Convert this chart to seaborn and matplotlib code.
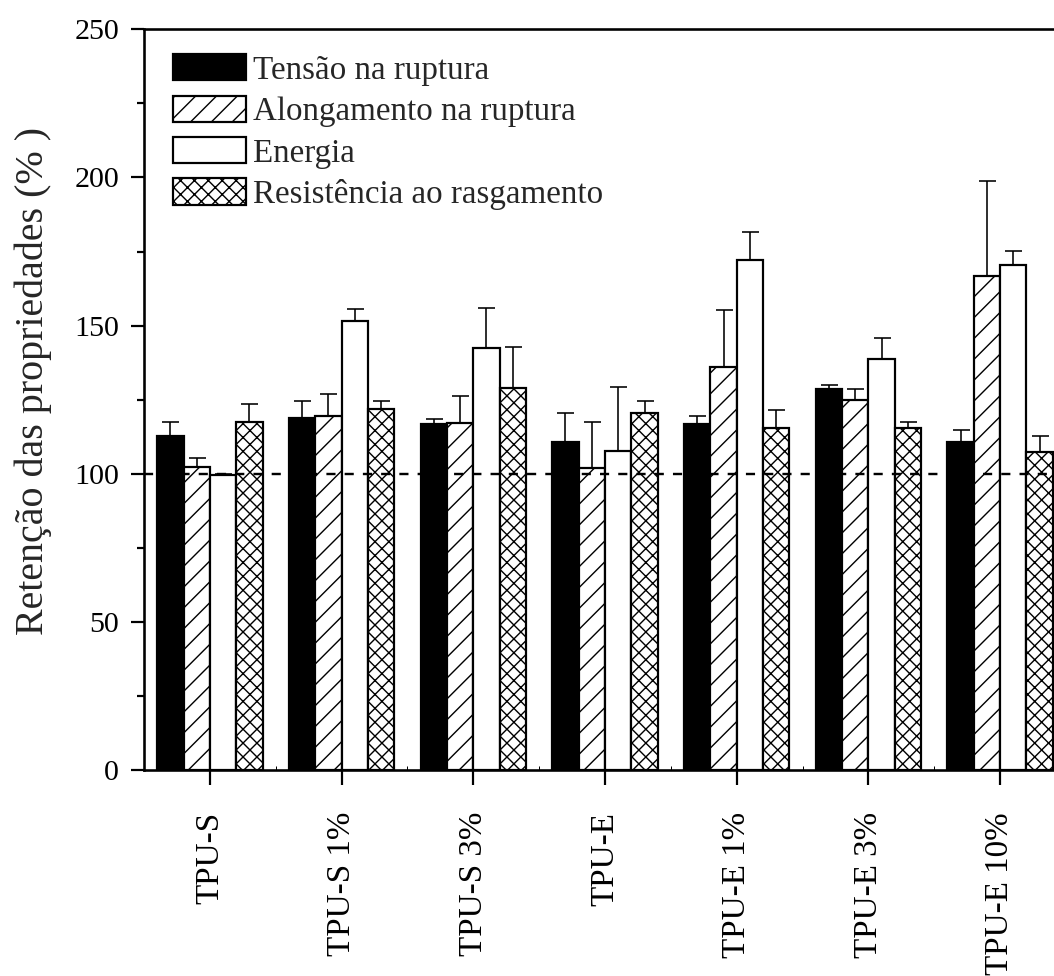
import numpy as np
import pandas as pd
import matplotlib
matplotlib.use("Agg")
import matplotlib.pyplot as plt
from matplotlib.patches import Patch
from matplotlib.ticker import MultipleLocator, FixedLocator
import seaborn as sns

# --- dados -------------------------------------------------------------
amostras = ["TPU-S", "TPU-S 1%", "TPU-S 3%", "TPU-E", "TPU-E 1%", "TPU-E 3%", "TPU-E 10%"]
propriedades = ["Tensão na ruptura", "Alongamento na ruptura", "Energia",
                "Resistência ao rasgamento"]

tensao = [112.7, 118.9, 116.9, 110.6, 116.7, 128.7, 110.6]
tensao_err = [4.8, 5.7, 1.6, 9.8, 2.8, 1.2, 4.1]
alongamento = [102.2, 119.6, 117.0, 102.0, 136.0, 124.9, 166.7]
alongamento_err = [3.2, 7.4, 9.3, 15.4, 19.3, 3.7, 32.0]
energia = [99.5, 151.6, 142.3, 107.7, 172.1, 138.7, 170.4]
energia_err = [0.5, 4.1, 13.6, 21.7, 9.4, 7.1, 4.9]
rasgamento = [117.4, 121.8, 129.0, 120.4, 115.5, 115.3, 107.2]
rasgamento_err = [6.2, 2.8, 13.8, 4.1, 6.0, 2.3, 5.6]

yticks = [0, 50, 100, 150, 200, 250]
referencia = 100

valores = [tensao, alongamento, energia, rasgamento]
erros = [tensao_err, alongamento_err, energia_err, rasgamento_err]
cores = ["black", "white", "white", "white"]
hachuras = ["", "//", "", "xxx"]

df = pd.DataFrame({
    "amostra": np.tile(amostras, len(propriedades)),
    "propriedade": np.repeat(propriedades, len(amostras)),
    "valor": np.concatenate(valores),
})

# --- estilo ------------------------------------------------------------
DPI = 125


def px(v):
    """pixels -> points"""
    return v * 72.0 / DPI


sns.set_style("ticks")
plt.rcParams["font.family"] = ["Liberation Serif", "DejaVu Serif"]
plt.rcParams["hatch.linewidth"] = px(1.4)
plt.rcParams["hatch.color"] = "black"
plt.rcParams["axes.edgecolor"] = "black"
plt.rcParams["xtick.color"] = "black"
plt.rcParams["ytick.color"] = "black"

fig = plt.figure(figsize=(1054 / DPI, 976 / DPI), dpi=DPI)
ax = fig.add_axes([144 / 1054, 206 / 976, 922 / 1054, 740.7 / 976])

sns.barplot(data=df, x="amostra", y="valor", hue="propriedade",
            order=amostras, hue_order=propriedades, palette=cores,
            saturation=1, edgecolor="black", linewidth=px(2.2),
            errorbar=None, width=0.8, dodge=True, legend=False, ax=ax, zorder=3)

for cont, hatch, vals, err in zip(ax.containers, hachuras, valores, erros):
    xs = []
    for p in cont.patches:
        p.set_hatch(hatch)
        p.set_edgecolor("black")
        xs.append(p.get_x() + p.get_width() / 2)
    ax.errorbar(xs, vals, yerr=[np.zeros(len(err)), err], fmt="none",
                ecolor="black", elinewidth=px(1.6), capsize=px(8.5),
                capthick=px(1.6), zorder=2)

ax.axhline(referencia, color="black", lw=px(2.4), dashes=(3.8, 3.8), zorder=5)

# eixos
ax.set_xlim(-0.5, len(amostras) - 0.5)
ax.set_ylim(0, 250)
ax.yaxis.set_major_locator(FixedLocator(yticks))
ax.yaxis.set_minor_locator(MultipleLocator(25))
ax.xaxis.set_minor_locator(FixedLocator(np.arange(0.5, len(amostras) - 1, 1.0)))

for s in ["left", "bottom", "top"]:
    ax.spines[s].set_linewidth(px(2.6))
ax.spines["right"].set_visible(False)

ax.tick_params(axis="y", which="major", direction="out", length=px(13),
               width=px(2.2), labelsize=px(30), pad=px(12))
ax.tick_params(axis="y", which="minor", direction="out", length=px(7),
               width=px(2.2))
ax.tick_params(axis="x", which="major", direction="out", length=px(15),
               width=px(2.2), labelsize=px(33), pad=px(27))
ax.tick_params(axis="x", which="minor", direction="in", length=px(4),
               width=px(1))
ax.set_xticks(range(len(amostras)))
ax.set_xticklabels(amostras, rotation=90, va="top", ha="center")

ax.set_xlabel("")
ax.set_ylabel("Retenção das propriedades (% )", fontsize=px(40))
ax.yaxis.set_label_coords(-92 / 922, (770 - 381) / 740.7)

# legenda
handles = [Patch(facecolor=c, edgecolor="black", hatch=h, linewidth=px(2.2))
           for c, h in zip(cores, hachuras)]
ax.legend(handles, propriedades, loc="upper left",
          bbox_to_anchor=(29 / 922, 1 - 25 / 740.7), frameon=False,
          borderpad=0, borderaxespad=0, handlelength=73 / 33,
          handleheight=27.7 / 33, handletextpad=0.21, labelspacing=0.3,
          fontsize=px(33))

fig.savefig("out.png", dpi=DPI)
